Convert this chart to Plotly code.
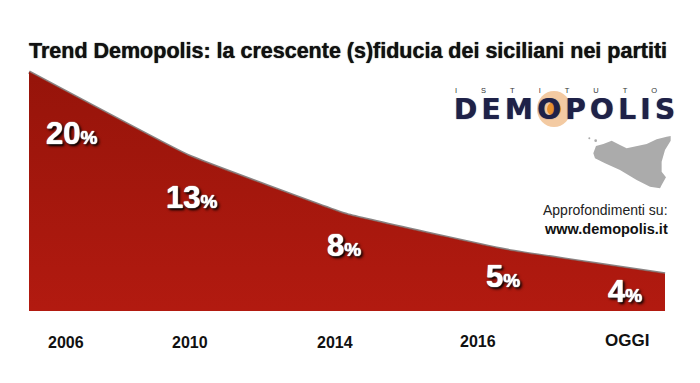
import plotly.graph_objects as go

categories = ["2006", "2010", "2014", "2016", "OGGI"]
value_labels = ["20", "13", "8", "5", "4"]
# Heights as drawn in the picture (the last point sits lower than its label)
drawn_values = [20, 13, 8.05, 5.1, 3.1]

W, H = 700, 383
PX_X0, PX_STEP = 29, 159
PX_Y0, PX_UNIT = 311, 11.95

fig = go.Figure()
fig.add_trace(go.Scatter(
    x=categories, y=drawn_values, mode="lines",
    line=dict(color="rgba(40,30,30,0.55)", width=3.5, shape="spline", smoothing=0.25),
    hoverinfo="skip", showlegend=False))
fig.add_trace(go.Scatter(
    x=categories, y=drawn_values, mode="lines",
    line=dict(color="#A01609", width=0.5, shape="spline", smoothing=0.25),
    fill="tozeroy",
    fillgradient=dict(type="vertical",
                      colorscale=[[0, "#B21A10"], [1, "#96140A"]]),
    hoverinfo="skip", showlegend=False))

ann = []
val_x = [42, 3, -3, -3, -40]
val_y_px = [133, 197, 245, 276, 291]
for i, (v, xs, yp) in enumerate(zip(value_labels, val_x, val_y_px)):
    ann.append(dict(
        x=i, xref="x", xshift=xs, y=1 - yp / H, yref="paper",
        text=f"<b><span style='font-size:31px'>{v}</span><span style='font-size:19px'>%</span></b>",
        showarrow=False, xanchor="center", yanchor="middle",
        font=dict(family="Liberation Sans", color="white",
                  shadow="0 0 1px #fff, 0 0 1px #fff, 2px 2px 3px #000, 1px 1px 2px #000")))

cat_x = [37, 2, -12, -28, -38]
cat_y_px = [342, 342, 342, 341, 340]
for i, (c, xs, yp) in enumerate(zip(categories, cat_x, cat_y_px)):
    ann.append(dict(
        x=i, xref="x", xshift=xs, y=1 - yp / H, yref="paper",
        text=f"<b>{c}</b>", showarrow=False, xanchor="center", yanchor="middle",
        font=dict(family="Liberation Sans", size=16 if i < 4 else 17, color="#111")))


def text_px(x, y, text, size, family="Liberation Sans", color="#111", shadow="none", height=None):
    ann.append(dict(x=x / W, y=1 - y / H, xref="paper", yref="paper", text=text,
                    showarrow=False, xanchor="center", yanchor="middle", height=height,
                    font=dict(family=family, size=size, color=color, shadow=shadow)))


text_px(347.5, 51, "<b>Trend Demopolis: la crescente (s)fiducia dei siciliani nei partiti</b>",
        21.5, shadow="0 0 1px #111")
text_px(568, 89.5, "<span style='letter-spacing:24px'>ISTITUTO</span>", 7.5, color="#333", height=8)
text_px(567, 109, "<b><span style='letter-spacing:4.3px'>DEMOPOLIS</span></b>", 28,
        family="DejaVu Sans", color="#1E2148", shadow="0 0 1px #1E2148", height=22)
text_px(605, 210, "Approfondimenti su:", 14, color="#222")
text_px(606, 229, "<b>www.demopolis.it</b>", 14.5, color="#111")


def to_paper(points):
    return "M " + " L ".join(f"{(430 + a / 3) / W:.4f},{1 - (70 + b / 3) / H:.4f}"
                             for a, b in points) + " Z"


sicily_outline = [(490, 250), (498, 228), (520, 222), (545, 212), (570, 225), (590, 235),
                  (650, 222), (680, 208), (710, 200), (722, 198), (722, 212), (705, 240),
                  (695, 275), (695, 305), (708, 322), (695, 345), (690, 355), (660, 350),
                  (620, 330), (570, 300), (525, 280), (495, 265)]
shapes = [
    dict(type="path", path=to_paper(sicily_outline), xref="paper", yref="paper",
         fillcolor="#ABABAB", line=dict(width=0), layer="above"),
    dict(type="circle", xref="paper", yref="paper",
         x0=537 / W, x1=571 / W, y0=1 - 127 / H, y1=1 - 91 / H,
         fillcolor="rgba(232,150,70,0.5)", line=dict(width=0), layer="below"),
    dict(type="circle", xref="paper", yref="paper",
         x0=547 / W, x1=561 / W, y0=1 - 116 / H, y1=1 - 102 / H,
         fillcolor="#E8912F", line=dict(width=0), layer="above"),
]
for dx, dy, r in [(478, 205, 3), (497, 212, 4)]:
    shapes.append(dict(type="circle", xref="paper", yref="paper",
                       x0=(430 + (dx - r) / 3) / W, x1=(430 + (dx + r) / 3) / W,
                       y0=1 - (70 + (dy + r) / 3) / H, y1=1 - (70 + (dy - r) / 3) / H,
                       fillcolor="#ABABAB", line=dict(width=0), layer="above"))

fig.update_layout(
    width=W, height=H, margin=dict(l=0, r=0, t=0, b=0),
    paper_bgcolor="white", plot_bgcolor="rgba(0,0,0,0)", showlegend=False,
    xaxis=dict(type="category", categoryorder="array", categoryarray=categories,
               range=[-PX_X0 / PX_STEP, (W - PX_X0) / PX_STEP], visible=False, fixedrange=True),
    yaxis=dict(range=[-(H - PX_Y0) / PX_UNIT, PX_Y0 / PX_UNIT], visible=False, fixedrange=True),
    annotations=ann, shapes=shapes,
)
fig.write_html("out.html", config={"displayModeBar": False},
               post_script="document.body.style.margin='0';document.documentElement.style.overflow='hidden';")
